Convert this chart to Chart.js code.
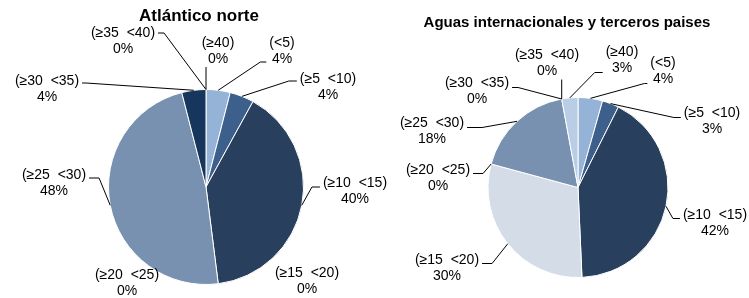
<!DOCTYPE html>
<html>
<head>
<meta charset="utf-8">
<script src="https://cdn.jsdelivr.net/npm/chart.js@4/dist/chart.umd.min.js"></script>
<style>
    body { margin: 0; background: #fff; width: 749px; height: 298px; overflow: hidden; position: relative; }
    canvas { position: absolute; top: 0; }
</style>
</head>
<body>
<canvas id="pieAguas" width="374" height="298" style="left:375px"></canvas>
<canvas id="pieNorte" width="400" height="298" style="left:0"></canvas>
<script>
let categories = ['(<5)', '(≥5  <10)', '(≥10  <15)', '(≥15  <20)', '(≥20  <25)', '(≥25  <30)', '(≥30  <35)', '(≥35  <40)', '(≥40)'];
let norteValues = [4, 4, 40, 0, 0, 48, 4, 0, 0];
let aguasValues = [4.4, 3.0, 41.9, 29.9, 0, 17.9, 0, 0, 2.9];

let sliceColors = ['#95b3d7', '#3d5f8b', '#283f5d', '#d4dce7', '#a6a6a6', '#7891b0', '#17365d', '#8eb4e3', '#b9cde5'];

// label placement: [dx, dy of first line from pie centre, leader side, leader attach dy, elbow]
let norteLabelPos = [
    [76, -144, 'L', 19, 6],
    [122, -108, 'L', 2, 8],
    [149, -4, 'L', 4, 8],
    [101, 86, null],
    [-79, 88, null],
    [-152, -12, 'R', 3, 10],
    [-159, -106, 'R', 2, 4],
    [-83, -154, 'R', 0, 6],
    [12, -144, 'V']
];
let aguasLabelPos = [
    [85, -124, 'L', 20, 3],
    [134, -74, 'L', 4, 7],
    [137, 28, 'L', 3, 7],
    [-131, 73, 'R', 3, 10],
    [-140, -17, 'R', 3, 10],
    [-146, -64, 'R', 4, 15],
    [-101, -104, 'R', 4, 6],
    [-31, -132, 'V'],
    [44, -135, 'L', 20, 8]
];

let labelFont = '14px "Liberation Sans", Arial, sans-serif';

let sliceLabels = {
    id: 'sliceLabels',
    afterDraw: function (chart, args, opts) {
        let ctx = chart.ctx;
        let meta = chart.getDatasetMeta(0);
        let values = chart.data.datasets[0].data;
        let total = values.reduce(function (a, b) { return a + b; }, 0);
        ctx.save();
        ctx.fillStyle = '#000';
        ctx.textAlign = 'center';
        ctx.textBaseline = 'middle';
        ctx.font = opts.titleFont;
        ctx.fillText(opts.title, opts.titleX, opts.titleY);

        ctx.font = labelFont;
        ctx.strokeStyle = '#000';
        ctx.lineWidth = 1;
        meta.data.forEach(function (arc, i) {
            let p = opts.placement[i];
            let mid = (arc.startAngle + arc.endAngle) / 2;
            let ax = arc.x + Math.cos(mid) * arc.outerRadius;
            let ay = arc.y + Math.sin(mid) * arc.outerRadius;
            let tx = arc.x + p[0];
            let ty = arc.y + p[1];
            let line1 = chart.data.labels[i];
            let line2 = Math.round(values[i] / total * 100) + '%';
            let w = Math.max(ctx.measureText(line1).width, ctx.measureText(line2).width);
            ctx.fillText(line1, tx, ty);
            ctx.fillText(line2, tx, ty + 16);

            ctx.beginPath();
            if (p[2] === 'L' || p[2] === 'R') {
                let sx = p[2] === 'L' ? tx - w / 2 - 3 : tx + w / 2 + 3;
                let ex = p[2] === 'L' ? sx - p[4] : sx + p[4];
                let sy = ty + p[3];
                ctx.moveTo(sx, sy);
                ctx.lineTo(ex, sy);
                ctx.lineTo(ax, ay);
                ctx.stroke();
            } else if (p[2] === 'V') {
                ctx.moveTo(ax, ay);
                ctx.lineTo(ax, ty + 24);
                ctx.stroke();
            }
        });
        ctx.restore();
    }
};

let pieDraw = function (id, values, placement, title, titleFont, titleX, titleY, padding) {
    let ctx = document.getElementById(id).getContext('2d');
    return new Chart(ctx, {
        type: 'pie',
        data: {
            labels: categories,
            datasets: [{
                data: values,
                backgroundColor: sliceColors,
                borderColor: '#ffffff',
                borderWidth: 1
            }]
        },
        options: {
            responsive: false,
            animation: false,
            layout: { padding: padding },
            plugins: {
                legend: { display: false },
                tooltip: { enabled: false },
                sliceLabels: {
                    placement: placement,
                    title: title,
                    titleFont: titleFont,
                    titleX: titleX,
                    titleY: titleY
                }
            }
        },
        plugins: [sliceLabels]
    });
};

window.addEventListener('load', function () {
    pieDraw('pieNorte', norteValues, norteLabelPos, 'Atlántico norte',
        'bold 17px "Liberation Sans", Arial, sans-serif', 199, 16,
        { left: 108, right: 96, top: 89, bottom: 13 });
    pieDraw('pieAguas', aguasValues, aguasLabelPos, 'Aguas internacionales y terceros paises',
        'bold 15px "Liberation Sans", Arial, sans-serif', 192, 23,
        { left: 112, right: 80, top: 97, bottom: 20 });
});
</script>
</body>
</html>
